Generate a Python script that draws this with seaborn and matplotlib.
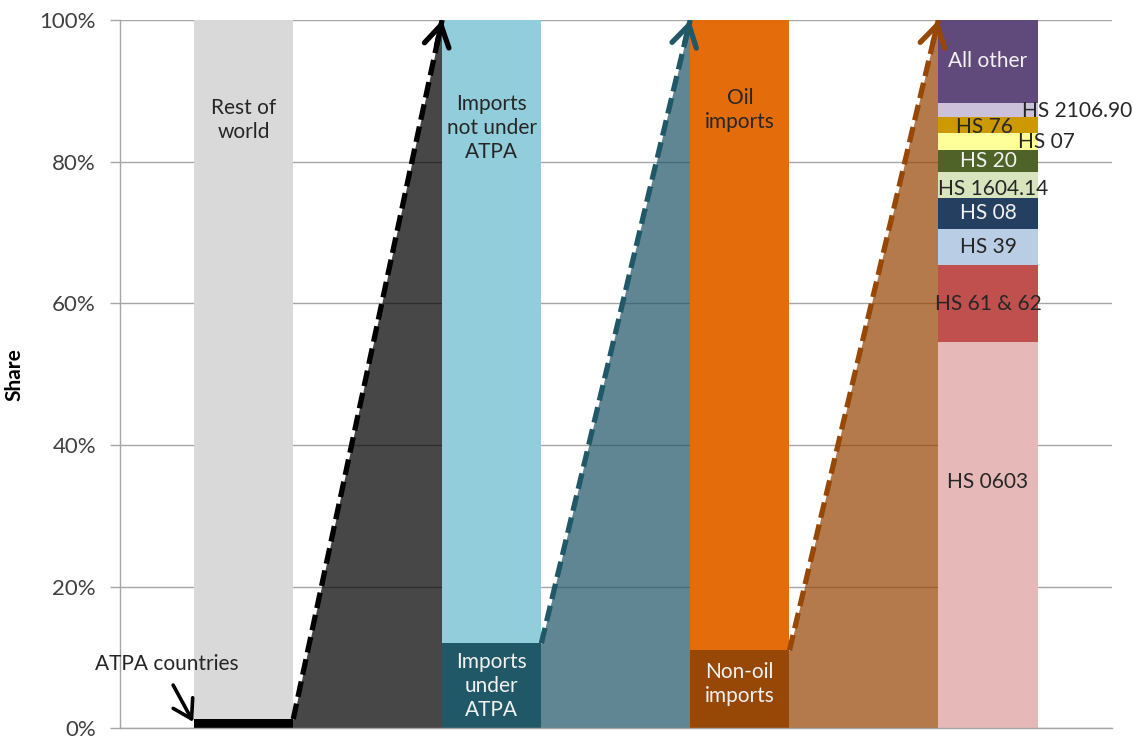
import matplotlib
matplotlib.use("Agg")
import matplotlib.pyplot as plt
import matplotlib.ticker as mticker
import numpy as np
import pandas as pd
import seaborn as sns

# ---- data (shares in percent, bottom segment first) ----
categories = ["World", "ATPA countries", "ATPA program", "Non-oil"]

world_segments = ["ATPA countries", "Rest of\nworld"]
world_values = [1.3, 98.7]

atpa_segments = ["Imports\nunder\nATPA", "Imports\nnot under\nATPA"]
atpa_values = [12.0, 88.0]

program_segments = ["Non-oil\nimports", "Oil\nimports"]
program_values = [11.0, 89.0]

nonoil_segments = ["HS 0603", "HS 61 & 62", "HS 39", "HS 08", "HS 1604.14",
                   "HS 20", "HS 07", "HS 76", "HS 2106.90", "All other"]
nonoil_values = [54.5, 10.9, 5.1, 4.4, 3.7, 3.0, 2.5, 2.2, 2.0, 11.7]

tick_values = [0, 20, 40, 60, 80, 100]

# ---- styling ----
colors = {
    "ATPA countries": "#000000", "Rest of\nworld": "#d9d9d9",
    "Imports\nunder\nATPA": "#215868", "Imports\nnot under\nATPA": "#92cddc",
    "Non-oil\nimports": "#974706", "Oil\nimports": "#e46c0a",
    "HS 0603": "#e6b9b8", "HS 61 & 62": "#c0504d", "HS 39": "#b9cde5",
    "HS 08": "#243f60", "HS 1604.14": "#d7e4bd", "HS 20": "#4f6228",
    "HS 07": "#ffff99", "HS 76": "#cc9900", "HS 2106.90": "#ccc1da",
    "All other": "#604a7b",
}
light_text = {"Imports\nunder\nATPA", "Non-oil\nimports", "HS 08", "HS 20", "All other"}
# label anchors (x offset from bar centre, y in percent) where not centred
label_anchor = {
    "Rest of\nworld": (0.0, 85.9),
    "Imports\nnot under\nATPA": (0.0, 84.8),
    "Oil\nimports": (0.0, 87.3),
    "Imports\nunder\nATPA": (0.0, 6.0),
    "Non-oil\nimports": (0.0, 6.3),
    "HS 0603": (0.0, 34.8),
    "HS 1604.14": (0.02, 76.2),
    "HS 07": (0.236, 82.8),
    "HS 76": (-0.016, 84.9),
    "HS 2106.90": (0.36, 87.1),
}

sns.set_theme(style="white")
plt.rcParams["font.family"] = ["Lato", "DejaVu Sans"]

bars = [
    (categories[0], world_segments, world_values),
    (categories[1], atpa_segments, atpa_values),
    (categories[2], program_segments, program_values),
    (categories[3], nonoil_segments, nonoil_values),
]

rows = []
for cat, segs, vals in bars:
    tops = np.cumsum(vals)
    for seg, val, top in zip(segs, vals, tops):
        rows.append({"category": cat, "segment": seg, "value": val,
                     "top": top, "bottom": top - val})
df = pd.DataFrame(rows)

# overlay cumulative bars, tallest first, to obtain stacked bars
hue_order = list(df.sort_values("top", ascending=False, kind="stable")["segment"])

fig = plt.figure(figsize=(11.33, 7.40), dpi=100)
ax = fig.add_axes([0.1055, 0.0158, 0.876, 0.9572])

bar_width = 0.4
sns.barplot(data=df, x="category", y="top", hue="segment", hue_order=hue_order,
            order=categories, palette=colors, dodge=False, width=bar_width,
            saturation=1, legend=False, linewidth=0, ax=ax, zorder=2)

# connector wedges with dashed arrows between consecutive bars
for i in range(len(bars) - 1):
    seg0 = bars[i][1][0]
    low = bars[i][2][0]
    col = colors[seg0]
    x0, x1 = i + bar_width / 2, i + 1 - bar_width / 2
    ax.fill_between([x0 - 0.01, x0, x1, x1 + 0.01], [0, 0, 0, 0],
                    [low, low, 100, 100], color=col, alpha=0.72,
                    linewidth=0, zorder=1.5)
    ax.plot([x0, x1], [low, 100], color=col, lw=3.8, dashes=(3.0, 1.3),
            solid_capstyle="butt", zorder=4)
    t = 0.965
    ax.annotate("", xy=(x1, 100), xytext=(x0 + t * (x1 - x0), low + t * (100 - low)),
                arrowprops=dict(arrowstyle="->,head_length=0.75,head_width=0.45",
                                mutation_scale=20, color=col, lw=3.8,
                                shrinkA=0, shrinkB=0, capstyle="round",
                                joinstyle="round"),
                zorder=5, annotation_clip=False)

# segment labels
for i, (cat, segs, vals) in enumerate(bars):
    for seg in segs:
        if seg == "ATPA countries":
            continue
        r = df[(df.category == cat) & (df.segment == seg)].iloc[0]
        dx, y = label_anchor.get(seg, (0.0, (r["bottom"] + r["top"]) / 2))
        tc = "#f2f2f2" if seg in light_text else "#262626"
        ax.text(i + dx, y, seg, ha="center", va="center", fontsize=15,
                color=tc, linespacing=1.25, zorder=6)

# call-out for the small ATPA share
ax.text(-0.31, 9.1, "ATPA countries", ha="center", va="center", fontsize=15,
        color="#262626", zorder=6)
ax.annotate("", xy=(-0.203, 0.9), xytext=(-0.284, 6.1),
            arrowprops=dict(arrowstyle="->,head_length=0.65,head_width=0.4",
                            mutation_scale=20, color="black", lw=2.6,
                            shrinkA=0, shrinkB=0),
            zorder=6)

# axes
ax.set_xlim(-0.5, 3.5)
ax.set_ylim(0, 100)
ax.set_xticks([])
ax.set_xlabel("")
ax.set_yticks(tick_values)
ax.yaxis.set_major_formatter(mticker.FuncFormatter(lambda v, _: f"{v:.0f}%"))
ax.tick_params(axis="y", direction="out", length=7, width=1, color="#a6a6a6",
               labelsize=16, labelcolor="#404040", pad=10, left=True)
ax.set_axisbelow(True)
ax.yaxis.grid(True, color="#a6a6a6", lw=1)
ax.set_ylabel("Share", fontsize=15, fontweight="bold", color="black")
ax.yaxis.set_label_coords(-0.096, 0.5)
for side in ("top", "right"):
    ax.spines[side].set_visible(False)
for side in ("left", "bottom"):
    ax.spines[side].set_color("#a6a6a6")
    ax.spines[side].set_linewidth(1)

fig.savefig("out.png", dpi=100)
